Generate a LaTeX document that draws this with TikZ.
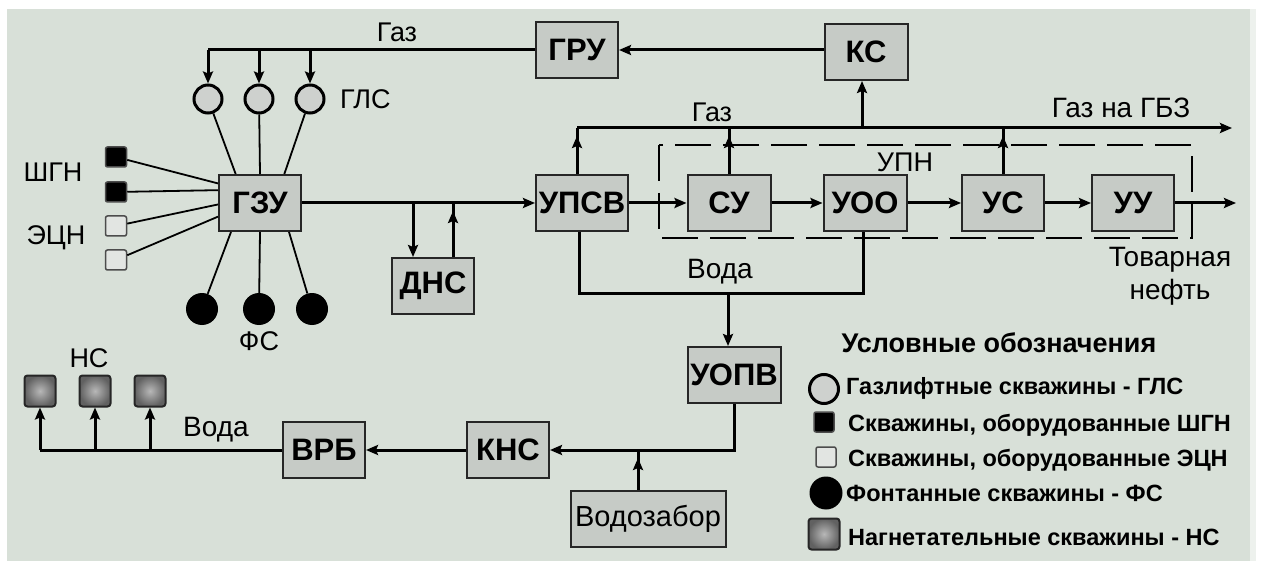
\documentclass[tikz,border=0pt]{standalone}
\usepackage{fontspec}
\setmainfont{Liberation Sans}
\usetikzlibrary{calc}
\usetikzlibrary{arrows.meta}
\usetikzlibrary{decorations.markings}
\definecolor{bg-gray}{RGB}{216,224,216}
\definecolor{box-gray}{RGB}{198,203,198}
\definecolor{glc-gray}{RGB}{206,209,206}
\definecolor{ecn-gray}{RGB}{226,229,226}
\tikzstyle{unit}=[draw=black!85,line width=2pt,fill=box-gray,minimum width=82pt,minimum height=56pt,inner sep=0pt,font=\fontsize{31}{33}\selectfont\bfseries]
\tikzstyle{pipe}=[line width=3pt]
\tikzstyle{flow}=[pipe,-{Stealth[length=12pt,width=10pt,inset=2pt]}]
\tikzstyle{riser}=[pipe,postaction={decorate},decoration={markings,mark=at position -8pt with {\arrow{Stealth[length=12pt,width=10pt,inset=2pt]}}}]
\tikzstyle{spoke}=[line width=1.8pt]
\tikzstyle{lbl}=[font=\fontsize{27}{29}\selectfont,inner sep=0pt]
\tikzstyle{legendtext}=[font=\fontsize{23.5}{25}\selectfont\bfseries,anchor=west,inner sep=0pt]
\tikzstyle{glc}=[circle,draw=black,line width=3pt,fill=glc-gray,minimum size=28pt,inner sep=0pt]
\tikzstyle{fc}=[circle,fill=black,minimum size=32pt,inner sep=0pt]
\tikzstyle{shgn}=[rectangle,rounded corners=2pt,draw=black!70,line width=1.5pt,fill=black,minimum width=21pt,minimum height=20pt,inner sep=0pt]
\tikzstyle{ecn}=[shgn,fill=ecn-gray]
\tikzstyle{nc}=[rectangle,rounded corners=3pt,draw=black!85,line width=2pt,inner color=black!28,outer color=black!62,minimum size=31pt,inner sep=0pt]
\begin{document}
\begin{tikzpicture}[x=1pt,y=-1pt]
\useasboundingbox (0,0) rectangle (1263,561);
\fill[white] (0,0) rectangle (1263,561);
\fill[bg-gray] (7,9) rectangle (1250,561);
\fill[bg-gray!45!white] (1250,9) rectangle (1256,561);

% units
\node[unit] (gzu) at (260,203) {ГЗУ};
\node[unit] (dns) at (433,286) {ДНС};
\node[unit,minimum width=92pt] (upsv) at (582,203) {УПСВ};
\node[unit] (gru) at (577,50) {ГРУ};
\node[unit,minimum width=83pt] (ks) at (866,52) {КС};
\node[unit,minimum width=83pt] (su) at (729,203) {СУ};
\node[unit,minimum width=83pt] (uoo) at (865,203) {УОО};
\node[unit] (us) at (1003,203) {УС};
\node[unit] (uu) at (1133,203) {УУ};
\node[unit,minimum width=93pt] (uopv) at (734,375) {УОПВ};
\node[unit] (kns) at (508,450) {КНС};
\node[unit] (vrb) at (324,450) {ВРБ};
\node[unit,minimum width=155pt,font=\fontsize{29}{31}\selectfont] (vodozabor) at (648,519) {Водозабор};

% wells
\foreach \i/\x in {1/208,2/259,3/310}
  \node[glc] (glc\i) at (\x,99) {};
\foreach \i/\x in {1/202,2/259,3/312}
  \node[fc] (fc\i) at (\x,309) {};
\node[shgn] (shgn1) at (116,157) {};
\node[shgn] (shgn2) at (116,192) {};
\node[ecn] (ecn1) at (116,226) {};
\node[ecn] (ecn2) at (116,260) {};
\foreach \i/\x in {1/40,2/95,3/150}
  \node[nc] (nc\i) at (\x,391) {};

\node[lbl,anchor=west] (glclbl) at (340,99) {ГЛС};
\node[lbl] (shgnlbl) at (53,172) {ШГН};
\node[lbl] (ecnlbl) at (56,238) {ЭЦН};
\node[lbl] (fclbl) at (259,341) {ФС};
\node[lbl] (nclbl) at (89,358) {НС};

\draw[spoke] (glc1) -- (gzu.130);
\draw[spoke] (glc2) -- (gzu.north);
\draw[spoke] (glc3) -- (gzu.50);
\draw[spoke] (shgn1) -- (gzu.155);
\draw[spoke] (shgn2) -- (gzu.163);
\draw[spoke] (ecn1) -- (gzu.182);
\draw[spoke] (ecn2) -- (gzu.198);
\draw[spoke] (fc1) -- (gzu.225);
\draw[spoke] (fc2) -- (gzu.south);
\draw[spoke] (fc3) -- (gzu.315);

% gas lift line
\draw[pipe] (gru.west) -- (gru.west -| glc1);
\foreach \i in {1,2,3}
  \draw[flow] (glc\i |- gru.west) -- (glc\i.north);
\draw[flow] (ks.west |- gru.east) -- (gru.east);
\node[lbl] (gaz1) at (397,32) {Газ};

% oil line
\coordinate (dnsin) at (413,203);
\coordinate (dnsout) at (453,203);
\draw[flow] (gzu.east) -- (upsv.west);
\draw[flow] (dnsin) -- (dnsin |- dns.north);
\draw[riser] (dnsout |- dns.north) -- (dnsout);
\draw[flow] (upsv.east) -- (su.west);
\draw[flow] (su.east) -- (uoo.west);
\draw[flow] (uoo.east) -- (us.west);
\draw[flow] (us.east) -- (uu.west);
\coordinate (oilout) at (1236,203);
\draw[flow] (uu.east) -- (oilout);
\node[lbl,align=center,font=\fontsize{28}{33}\selectfont] (oil) at (1170,276) {Товарная\\нефть};

% gas to GBZ
\coordinate (gasL) at (577,128);
\coordinate (gasR) at (1232,128);
\coordinate (ksup) at (862,128);
\draw[flow] (gasL) -- (gasR);
\draw[riser] (gasL |- upsv.north) -- (gasL);
\draw[riser] (su.north) -- (su.north |- gasL);
\draw[riser] (us.north) -- (us.north |- gasL);
\draw[flow] (ksup) -- (ksup |- ks.south);
\node[lbl] (gaz2) at (712,112) {Газ};
\node[lbl,font=\fontsize{28}{30}\selectfont] (gbz) at (1121,108) {Газ на ГБЗ};

\draw[line width=2pt,dash pattern=on 36pt off 12pt] (659,145) rectangle (1192,238);
\node[lbl] (upn) at (905,162) {УПН};

% water
\coordinate (wl) at (579,293);
\coordinate (wr) at (863,293);
\coordinate (wm) at (728,293);
\draw[pipe] (wl |- upsv.south) -- (wl) -- (wr) -- (wr |- uoo.south);
\draw[flow] (wm) -- (wm |- uopv.north);
\node[lbl,font=\fontsize{28}{30}\selectfont] (voda1) at (720,272) {Вода};
\draw[flow] (uopv.south) |- (kns.east);
\coordinate (vz) at (638,450);
\draw[riser] (vz |- vodozabor.north) -- (vz);
\draw[flow] (kns.west) -- (vrb.east);
\draw[pipe] (vrb.west) -- (vrb.west -| nc1.south);
\foreach \i in {1,2,3}
  \draw[flow] (vrb.west -| nc\i.south) -- (nc\i.south);
\node[lbl,font=\fontsize{28}{30}\selectfont] (voda2) at (216,430) {Вода};

% legend
\node[lbl,font=\fontsize{27}{29}\selectfont\bfseries] (legtitle) at (999,343) {Условные обозначения};
\node[glc,minimum size=29pt] (leg1) at (824,389) {};
\node[legendtext] (leg1txt) at (846,388) {Газлифтные скважины - ГЛС};
\node[shgn,minimum width=20pt] (leg2) at (824,422) {};
\node[legendtext] (leg2txt) at (848,425) {Скважины, оборудованные ШГН};
\node[ecn,minimum width=20pt] (leg3) at (826,457) {};
\node[legendtext] (leg3txt) at (848,460) {Скважины, оборудованные ЭЦН};
\node[fc,minimum size=33pt] (leg4) at (826,493) {};
\node[legendtext] (leg4txt) at (846,493) {Фонтанные скважины - ФС};
\node[nc] (leg5) at (824,534) {};
\node[legendtext] (leg5txt) at (848,537) {Нагнетательные скважины - НС};
\end{tikzpicture}
\end{document}
